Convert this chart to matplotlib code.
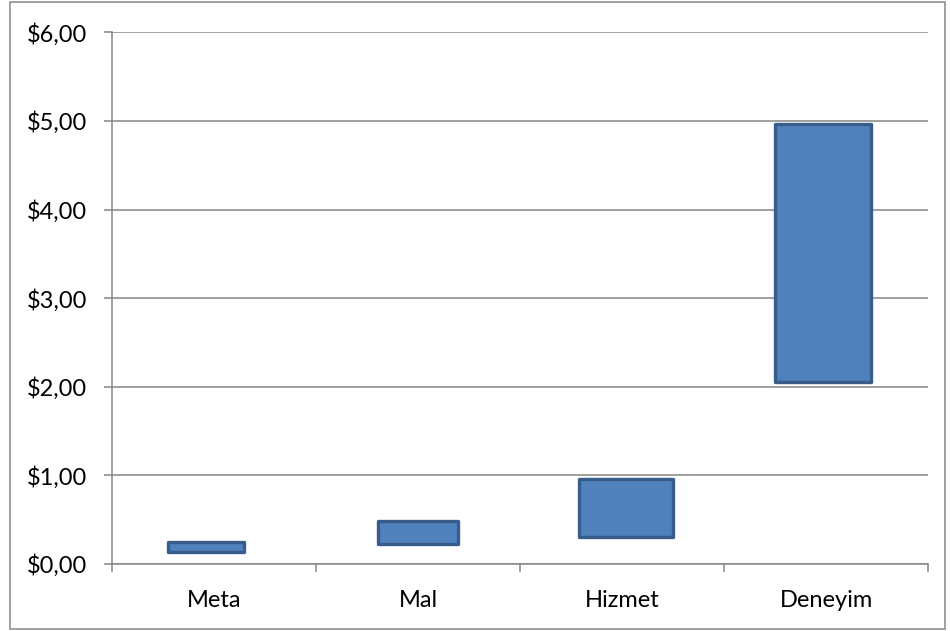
import matplotlib.pyplot as plt
from matplotlib.patches import Rectangle
from matplotlib.ticker import FuncFormatter

categories = ['Meta', 'Mal', 'Hizmet', 'Deneyim']
low_values = [0.14, 0.22, 0.31, 2.05]
high_values = [0.25, 0.49, 0.96, 4.97]

# bar widths / offsets as drawn in the original
bar_widths = [0.37, 0.39, 0.46, 0.47]
bar_offsets = [-0.04, 0.0, 0.02, -0.015]

plt.rcParams['font.family'] = ['Lato', 'DejaVu Sans']

fig = plt.figure(figsize=(9.5, 6.31), dpi=100)
ax = fig.add_axes([0.1182, 0.1062, 0.8586, 0.8426])

xs = [i + off for i, off in enumerate(bar_offsets)]
heights = [h - l for h, l in zip(high_values, low_values)]
bars = ax.bar(xs, heights, bottom=low_values, width=bar_widths,
              color='#4F81BD', edgecolor='#385D8A', linewidth=2.4, zorder=3)
for b in bars:
    b.set_joinstyle('round')

ax.set_xlim(-0.5, len(categories) - 0.5)
ax.set_ylim(0, 6)
ax.set_yticks(range(0, 7))
ax.yaxis.set_major_formatter(FuncFormatter(lambda v, p: f'${v:.2f}'.replace('.', ',')))
ax.grid(axis='y', color='#868686', linewidth=1.1, zorder=0)

# category boundaries as major ticks, labels on minor ticks
ax.set_xticks([i - 0.5 for i in range(len(categories) + 1)])
ax.set_xticklabels([])
ax.set_xticks(range(len(categories)), minor=True)
ax.set_xticklabels(categories, minor=True)
ax.tick_params(axis='x', which='major', length=6, width=1.1, color='#868686')
ax.tick_params(axis='x', which='minor', length=0, pad=19, labelsize=17)
ax.tick_params(axis='y', length=6, width=1.1, color='#868686', pad=12, labelsize=17)

for side in ['top', 'right']:
    ax.spines[side].set_visible(False)
for side in ['left', 'bottom']:
    ax.spines[side].set_color('#868686')
    ax.spines[side].set_linewidth(1.1)

fig.patches.append(Rectangle((10 / 950, 2 / 631), 935 / 950, 627 / 631,
                             transform=fig.transFigure, fill=False,
                             edgecolor='#868686', linewidth=1.1))

fig.savefig('out.png', dpi=100)
